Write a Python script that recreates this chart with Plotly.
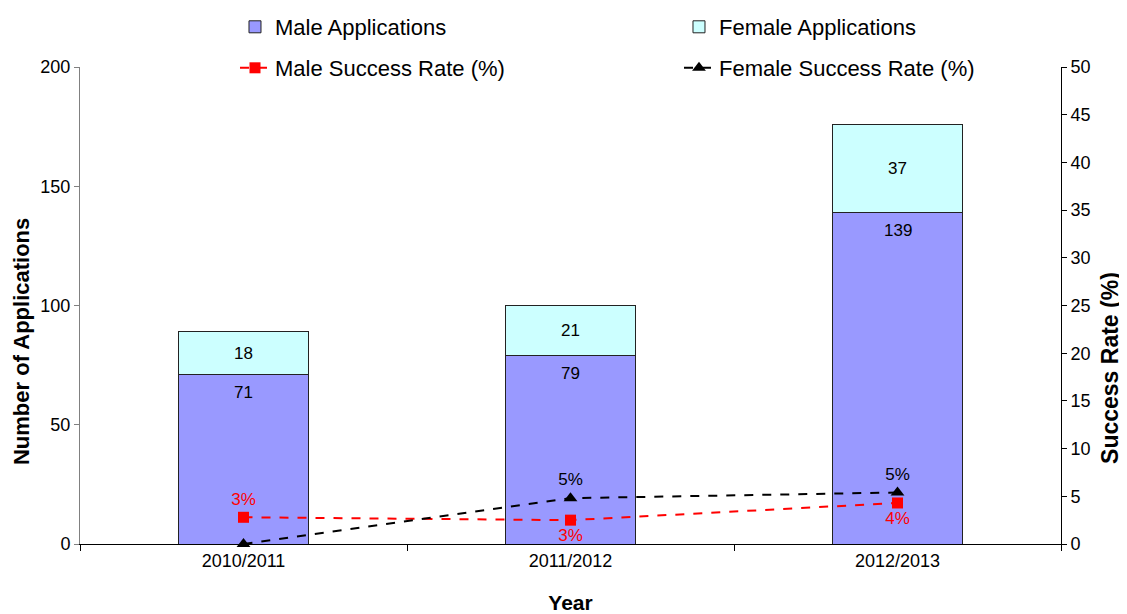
import plotly.graph_objects as go

years = ["2010/2011", "2011/2012", "2012/2013"]
male_apps = [71, 79, 139]
female_apps = [18, 21, 37]
male_rate = [2.8, 2.5, 4.3]
female_rate = [0.0, 4.8, 5.4]
male_rate_labels = ["3%", "3%", "4%"]
female_rate_labels = ["", "5%", "5%"]

FONT = "Liberation Sans, Arial, sans-serif"

# page body adds an 8px offset; figure sized so it fits the 1127x614 window
W, H = 1119, 606

fig = go.Figure()
fig.add_trace(go.Bar(
    x=years, y=male_apps, name="Male Applications", legend="legend",
    marker=dict(color="#9999FF", line=dict(color="#222222", width=1)),
    width=0.4,
))
fig.add_trace(go.Bar(
    x=years, y=female_apps, name="Female Applications", legend="legend",
    marker=dict(color="#CCFFFF", line=dict(color="#222222", width=1)),
    text=[str(v) for v in female_apps], textposition="inside", insidetextanchor="middle",
    textfont=dict(color="black", size=17, family=FONT), width=0.4,
))
fig.add_trace(go.Scatter(
    x=years, y=male_rate, name="Male Success Rate (%)", yaxis="y2", legend="legend2",
    mode="lines+markers+text",
    line=dict(color="#FF0000", dash="dash", width=2),
    marker=dict(symbol="square", size=11, color="#FF0000"),
    text=male_rate_labels, textposition=["top center", "bottom center", "bottom center"],
    textfont=dict(color="#FF0000", size=17, family=FONT),
    cliponaxis=False,
))
fig.add_trace(go.Scatter(
    x=years, y=female_rate, name="Female Success Rate (%)", yaxis="y2", legend="legend2",
    mode="lines+markers+text",
    line=dict(color="black", dash="dash", width=2),
    marker=dict(symbol="triangle-up", size=12, color="black"),
    text=female_rate_labels, textposition="top center",
    textfont=dict(color="black", size=17, family=FONT),
    cliponaxis=False,
))

# male value labels just inside the top of each male segment
annotations = [
    dict(x=yr, y=v, xref="x", yref="y", text=str(v), showarrow=False,
         yanchor="middle", yshift=-18, font=dict(size=17, color="black", family=FONT))
    for yr, v in zip(years, male_apps)
]
annotations += [
    dict(x=-0.0591, y=0.4235, xref="paper", yref="paper", text="<b>Number of Applications</b>",
         textangle=-90, showarrow=False, xanchor="center", yanchor="middle",
         font=dict(size=22, family=FONT, color="black")),
    dict(x=1.0499, y=0.369, xref="paper", yref="paper", text="<b>Success Rate (%)</b>",
         textangle=-90, showarrow=False, xanchor="center", yanchor="middle",
         font=dict(size=23, family=FONT, color="black")),
]

leg_common = dict(orientation="h", xanchor="left", yanchor="middle", yref="container",
                  entrywidth=399, font=dict(size=22, family=FONT), traceorder="normal",
                  bgcolor="rgba(0,0,0,0)")

fig.update_layout(
    width=W, height=H,
    barmode="stack",
    plot_bgcolor="white", paper_bgcolor="white",
    font=dict(family=FONT, size=18, color="black"),
    margin=dict(l=72, r=66, t=59, b=70, autoexpand=False),
    showlegend=True,
    legend=dict(x=0.158, y=1 - 19 / H, **leg_common),
    legend2=dict(x=0.158, y=1 - 60 / H, **leg_common),
    annotations=annotations,
    xaxis=dict(
        showline=True, linecolor="black", linewidth=1,
        ticks="outside", tickson="boundaries", ticklen=6, tickcolor="black",
        range=[-0.5, 2.5],
        title=dict(text="<b>Year</b>", font=dict(size=21, family=FONT), standoff=32),
        tickfont=dict(size=18),
    ),
    yaxis=dict(
        range=[0, 200], dtick=50, showgrid=False, zeroline=False,
        showline=True, linecolor="#808080", linewidth=1,
        ticks="outside", ticklen=5, tickcolor="#808080",
        tickfont=dict(size=18),
    ),
    yaxis2=dict(
        range=[0, 50], dtick=5, overlaying="y", side="right", showgrid=False, zeroline=False,
        showline=True, linecolor="black", linewidth=1,
        ticks="outside", ticklen=5, tickcolor="black",
        tickfont=dict(size=18),
    ),
)

fig.write_html("out.html")
